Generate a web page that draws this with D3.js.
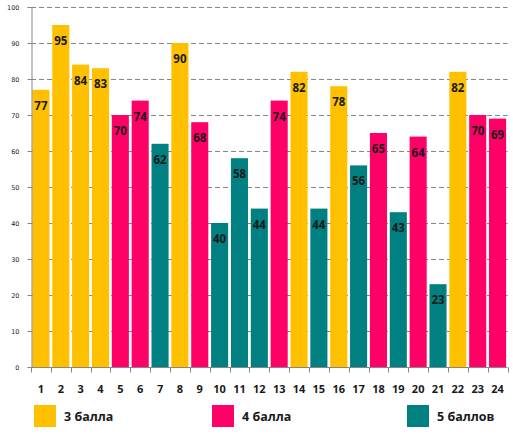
<!DOCTYPE html>
<html>
<head>
<meta charset="utf-8">
<script src="https://cdn.jsdelivr.net/npm/d3@7"></script>
<style>
  body { margin: 0; background: #fff; }
  svg { display: block; }
</style>
</head>
<body>
<svg id="chart"></svg>
<script>
// chart data
const questions = ["1","2","3","4","5","6","7","8","9","10","11","12","13","14","15","16","17","18","19","20","21","22","23","24"];
const scores = [77, 95, 84, 83, 70, 74, 62, 90, 68, 40, 58, 44, 74, 82, 44, 78, 56, 65, 43, 64, 23, 82, 70, 69];
const grades = ["3","3","3","3","4","4","5","3","4","5","5","5","4","3","5","3","5","4","5","4","5","3","4","4"];
const legendKeys = ["3", "4", "5"];
const legendLabels = ["3 балла", "4 балла", "5 баллов"];
const yTicks = [0, 10, 20, 30, 40, 50, 60, 70, 80, 90, 100];

const width = 513, height = 436;
const svg = d3.select("#chart").attr("width", width).attr("height", height);

const x = d3.scaleBand()
  .domain(questions)
  .range([31, 507.5])
  .paddingInner(0.14)
  .paddingOuter(0.07);

const y = d3.scaleLinear().domain([0, 100]).range([367, 7]);

const color = d3.scaleOrdinal()
  .domain(legendKeys)
  .range(["#ffc000", "#ff0066", "#008080"]);

// dashed gridlines
svg.append("g")
  .selectAll("line")
  .data(yTicks.filter(d => d > 0))
  .enter()
  .append("line")
  .attr("x1", 31)
  .attr("x2", 507.5)
  .attr("y1", d => Math.round(y(d)) + 0.5)
  .attr("y2", d => Math.round(y(d)) + 0.5)
  .attr("stroke", "#868686")
  .attr("stroke-dasharray", "5,3");

// bars
svg.append("g")
  .selectAll("rect")
  .data(scores)
  .enter()
  .append("rect")
  .attr("x", (d, i) => x(questions[i]))
  .attr("width", x.bandwidth())
  .attr("y", d => y(d))
  .attr("height", d => y(0) - y(d))
  .attr("fill", (d, i) => color(grades[i]));

// value labels inside bars
svg.append("g")
  .selectAll("text")
  .data(scores)
  .enter()
  .append("text")
  .attr("x", (d, i) => x(questions[i]) + x.bandwidth() / 2)
  .attr("y", d => y(d) + 20)
  .attr("text-anchor", "middle")
  .attr("font-family", "'Open Sans', sans-serif")
  .attr("font-weight", "bold")
  .attr("font-size", 11.5)
  .attr("fill", "#1a1a1a")
  .text(d => d);

// y axis
const yAxis = svg.append("g")
  .attr("transform", "translate(31.5,0)")
  .call(d3.axisLeft(y).tickValues(yTicks).tickSize(4).tickPadding(8));
yAxis.select(".domain").attr("stroke", "#868686");
yAxis.selectAll(".tick line").attr("stroke", "#868686");
yAxis.selectAll(".tick text")
  .attr("font-family", "'DejaVu Sans', sans-serif")
  .attr("font-size", 6.5)
  .attr("fill", "#222");

// x axis, tick marks at band edges
const xAxisG = svg.append("g").attr("transform", `translate(0,${y(0) + 0.5})`);
xAxisG.append("line")
  .attr("x1", 31)
  .attr("x2", 507.5)
  .attr("stroke", "#868686");
const step = x.step();
const edges = d3.range(questions.length + 1).map(i => x.range()[0] + i * step);
xAxisG.selectAll(".edge")
  .data(edges)
  .enter()
  .append("line")
  .attr("class", "edge")
  .attr("x1", d => Math.round(d) + 0.5)
  .attr("x2", d => Math.round(d) + 0.5)
  .attr("y1", 0)
  .attr("y2", 5)
  .attr("stroke", "#868686");
xAxisG.selectAll("text")
  .data(questions)
  .enter()
  .append("text")
  .attr("x", d => x(d) + x.bandwidth() / 2)
  .attr("y", 25)
  .attr("text-anchor", "middle")
  .attr("font-family", "'Open Sans', sans-serif")
  .attr("font-weight", "bold")
  .attr("font-size", 11)
  .attr("fill", "#1a1a1a")
  .text(d => d);

// legend
const legendX = [34, 212, 407];
const legend = svg.append("g")
  .selectAll("g")
  .data(legendKeys)
  .enter()
  .append("g")
  .attr("transform", (d, i) => `translate(${legendX[i]},405)`);
legend.append("rect")
  .attr("width", 22)
  .attr("height", 22)
  .attr("fill", d => color(d));
legend.append("text")
  .attr("x", 30)
  .attr("y", 16)
  .attr("font-family", "'Open Sans', sans-serif")
  .attr("font-weight", "bold")
  .attr("font-size", 12.5)
  .attr("fill", "#1a1a1a")
  .text((d, i) => legendLabels[i]);
</script>
</body>
</html>
